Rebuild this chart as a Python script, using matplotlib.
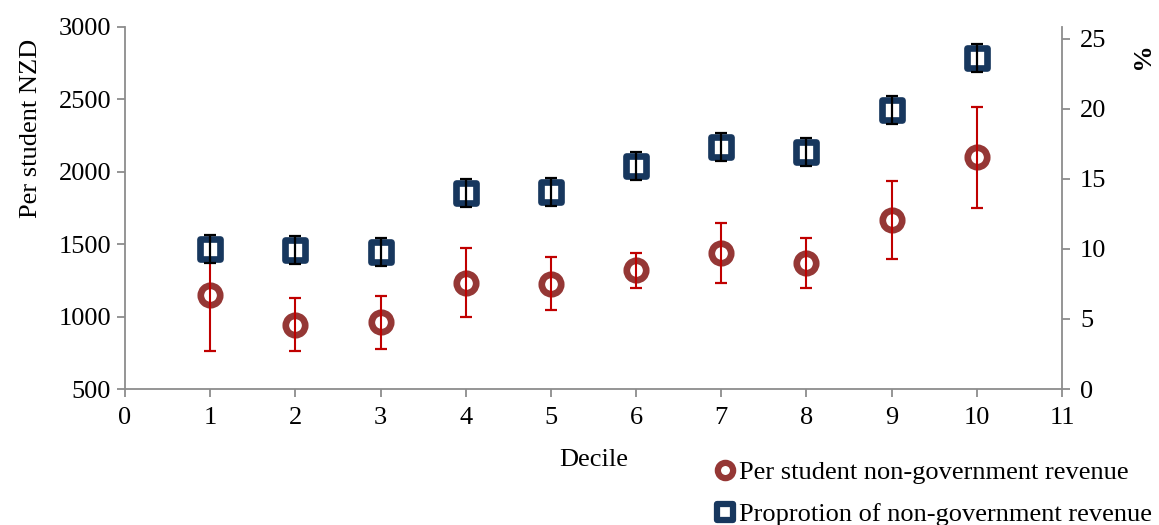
import matplotlib.pyplot as plt
from matplotlib.lines import Line2D
from matplotlib.markers import MarkerStyle

plt.rcParams['font.family'] = ['Liberation Serif', 'DejaVu Serif']

# Data
deciles = [1, 2, 3, 4, 5, 6, 7, 8, 9, 10]
per_student = [1150, 945, 962, 1232, 1228, 1320, 1438, 1372, 1668, 2100]
per_student_err = [390, 180, 183, 238, 182, 120, 206, 172, 270, 348]
proportion = [10.0, 9.95, 9.75, 14.0, 14.05, 15.9, 17.3, 16.9, 19.9, 23.65]
proportion_err = [1.0, 1.0, 1.0, 1.0, 1.0, 1.0, 1.0, 1.0, 1.0, 1.0]

red = '#953735'
red_err = '#C00000'
blue = '#17375E'
grey = '#8C8C8C'
fs = 19

circle = MarkerStyle('o', joinstyle='round')
square = MarkerStyle('s', joinstyle='round')

fig = plt.figure(figsize=(11.59, 5.25), dpi=100)
ax = fig.add_axes([0.1079, 0.259, 0.8084, 0.690])
ax2 = ax.twinx()

# Left axis: per student revenue
ax.plot(deciles, per_student, linestyle='none', marker=circle, markersize=14,
        markeredgewidth=4.8, markeredgecolor=red, markerfacecolor='white', zorder=2)
ax.errorbar(deciles, per_student, yerr=per_student_err, fmt='none', ecolor=red_err,
            elinewidth=1.5, capsize=4.3, capthick=1.6, zorder=3)

# Right axis: proportion
ax2.plot(deciles, proportion, linestyle='none', marker=square, markersize=14,
         markeredgewidth=4.8, markeredgecolor=blue, markerfacecolor='white', zorder=2)
ax2.errorbar(deciles, proportion, yerr=proportion_err, fmt='none', ecolor='black',
             elinewidth=1.6, capsize=4.0, capthick=1.6, zorder=3)

ax.set_xlim(0, 11)
ax.set_xticks(range(0, 12))
ax.set_ylim(500, 3000)
ax.set_yticks(range(500, 3001, 500))
ax2.set_ylim(0, 25.86)
ax2.set_yticks(range(0, 26, 5))

for a in (ax, ax2):
    a.spines['top'].set_visible(False)
    for side in ('left', 'right', 'bottom'):
        a.spines[side].set_color(grey)
        a.spines[side].set_linewidth(1.3)
    a.tick_params(direction='out', length=6, width=1.3, color=grey,
                  labelsize=fs, labelcolor='black', pad=4)
ax.spines['right'].set_visible(False)
ax2.spines['left'].set_visible(False)
ax2.spines['bottom'].set_visible(False)
ax.tick_params(axis='x', pad=7)
ax2.tick_params(axis='y', pad=7)

ax.set_ylabel('Per student NZD', fontsize=fs)
ax.yaxis.set_label_coords(-0.089, 0.72)
ax.set_xlabel('Decile', fontsize=fs, labelpad=14)
fig.text(0.9805, 0.885, '%', fontsize=fs, fontweight='bold', rotation=-90,
         ha='center', va='center')

handles = [
    Line2D([], [], linestyle='none', marker=circle, markersize=11,
           markeredgewidth=4.5, markeredgecolor=red, markerfacecolor='white'),
    Line2D([], [], linestyle='none', marker=square, markersize=11,
           markeredgewidth=4.5, markeredgecolor=blue, markerfacecolor='white'),
]
labels = ['Per student non-government revenue', 'Proprotion of non-government revenue']
fig.legend(handles, labels, loc='upper left', bbox_to_anchor=(0.619, 0.122),
           frameon=False, fontsize=fs, handlelength=0.6, handletextpad=0.2,
           labelspacing=0.68, borderpad=0, borderaxespad=0)

fig.savefig('out.png', dpi=100)
